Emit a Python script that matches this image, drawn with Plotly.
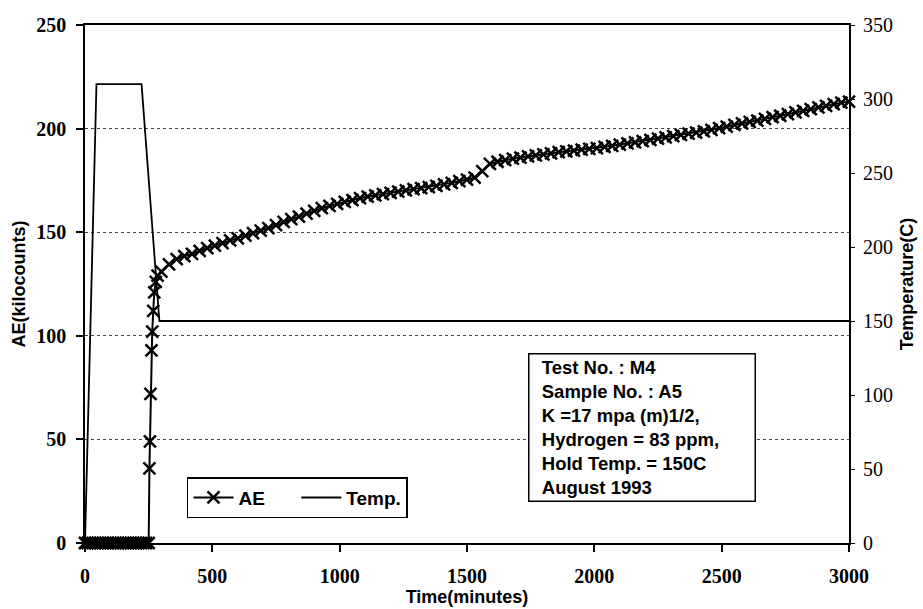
import plotly.graph_objects as go

# ---- data ----
ae_time_base = [0, 10, 20, 30, 40, 50, 60, 70, 80, 90, 100, 110, 120, 130, 140, 150,
                160, 170, 180, 190, 200, 210, 220, 230, 240, 250]
ae_val_base = [0] * len(ae_time_base)

ae_time_ramp = [253, 255, 257, 261, 264, 268, 272, 278, 285]
ae_val_ramp = [36, 49, 72, 93, 102, 112, 121, 126, 129]

ae_time_main = [300, 330, 360, 390, 420, 450, 480, 510, 540, 570, 600, 630, 660, 690, 720,
                750, 780, 810, 840, 870, 900, 930, 960, 990, 1020, 1050, 1080, 1110, 1140,
                1170, 1200, 1230, 1260, 1290, 1320, 1350, 1380, 1410, 1440, 1470, 1500, 1530,
                1560, 1590, 1620, 1650, 1680, 1710, 1740, 1770, 1800, 1830, 1860, 1890, 1920,
                1950, 1980, 2010, 2040, 2070, 2100, 2130, 2160, 2190, 2220, 2250, 2280, 2310,
                2340, 2370, 2400, 2430, 2460, 2490, 2520, 2550, 2580, 2610, 2640, 2670, 2700,
                2730, 2760, 2790, 2820, 2850, 2880, 2910, 2940, 2970, 3000]
ae_val_main = [131, 134.5, 137, 138.5, 139.5, 141, 142.3, 143.5, 144.7, 146, 147, 148.3, 149.5,
               150.8, 152, 153.4, 155, 156.3, 157.5, 159, 160.3, 161.6, 162.7, 163.7, 164.6,
               165.5, 166.4, 167.2, 167.8, 168.4, 169, 169.6, 170.2, 170.8, 171.3, 171.8, 172.4,
               173.1, 173.8, 174.6, 175.4, 176.3, 179.5, 183, 184, 184.8, 185.5, 186, 186.6,
               187.1, 187.6, 188.1, 188.6, 189, 189.4, 189.8, 190.2, 190.6, 191.2, 191.7, 192.3,
               192.9, 193.4, 194, 194.6, 195.2, 195.8, 196.4, 197, 197.6, 198.1, 198.7, 199.4,
               200.2, 201, 201.8, 202.5, 203.2, 203.9, 204.7, 205.5, 206.2, 207, 207.8, 208.6,
               209.4, 210.2, 211, 211.8, 212.5, 213]

temp_time = [0, 45, 222, 292, 3000]
temp_val = [0, 310, 310, 150, 150]

x_ticks = [0, 500, 1000, 1500, 2000, 2500, 3000]
y_ticks = [0, 50, 100, 150, 200, 250]
y2_ticks = [0, 50, 100, 150, 200, 250, 300, 350]

info_lines = ["Test No. : M4", "Sample No. : A5", "K =17 mpa (m)1/2,",
              "Hydrogen = 83 ppm,", "Hold Temp. = 150C", "August 1993"]

ae_time = ae_time_base + ae_time_ramp + ae_time_main
ae_val = ae_val_base + ae_val_ramp + ae_val_main

tick_font = dict(family="Liberation Serif", size=20, color="black", weight="bold")
title_font = dict(family="Liberation Sans", size=18, color="black", weight="bold")

fig = go.Figure()
fig.add_trace(go.Scatter(
    x=ae_time, y=ae_val, name="AE" + "&nbsp;" * 5, mode="lines+markers",
    line=dict(color="black", width=2),
    marker=dict(symbol="x-thin", size=12, line=dict(color="black", width=2.5)),
    cliponaxis=False,
))
fig.add_trace(go.Scatter(
    x=temp_time, y=temp_val, name="Temp.", mode="lines", yaxis="y2",
    line=dict(color="black", width=1.8),
))

fig.update_layout(
    width=923, height=609,
    margin=dict(l=85, r=74, t=25, b=66),
    paper_bgcolor="white", plot_bgcolor="white",
    showlegend=True,
    legend=dict(
        orientation="h", x=0.1335, y=0.048, xanchor="left", yanchor="bottom",
        bordercolor="black", borderwidth=1.5, bgcolor="white",
        font=dict(family="Liberation Sans", size=19, color="black", weight="bold"),
        itemwidth=40,
    ),
    xaxis=dict(
        range=[0, 3000], tickvals=x_ticks, ticks="outside", ticklen=7, tickwidth=1.5,
        tickcolor="black", showline=True, linecolor="black", linewidth=1.5, mirror=True,
        showgrid=False, zeroline=False, tickfont=tick_font, ticklabelstandoff=7,
        automargin=False,
        title=dict(text="Time(minutes)", font=title_font, standoff=2),
    ),
    yaxis=dict(
        range=[0, 250], tickvals=y_ticks, ticks="outside", ticklen=7, tickwidth=1.5,
        tickcolor="black", showline=True, linecolor="black", linewidth=1.5,
        showgrid=True, gridcolor="#444444", griddash="dot", gridwidth=1,
        zeroline=False, tickfont=tick_font, ticklabelstandoff=6, automargin=False,
        title=dict(text="AE(kilocounts)", font=title_font, standoff=6),
    ),
    yaxis2=dict(
        range=[0, 350], tickvals=y2_ticks, overlaying="y", side="right",
        ticks="outside", ticklen=4, tickwidth=1, tickcolor="black",
        showline=True, linecolor="black", linewidth=1.8, showgrid=False, zeroline=False,
        tickfont=dict(family="Liberation Serif", size=20, color="black"),
        ticklabelstandoff=4, automargin=False,
        title=dict(text="Temperature(C)", font=title_font, standoff=8),
    ),
)

fig.add_annotation(
    xref="paper", yref="paper", x=0.58, y=0.367, xanchor="left", yanchor="top",
    text="<br>".join("&nbsp;&nbsp;" + s for s in info_lines), showarrow=False, align="left",
    font=dict(family="Liberation Sans", size=18.5, color="black", weight="bold"),
    bordercolor="black", borderwidth=1.5, borderpad=2, bgcolor="white",
    width=221, height=142, valign="middle",
)

fig.write_html("out.html")
